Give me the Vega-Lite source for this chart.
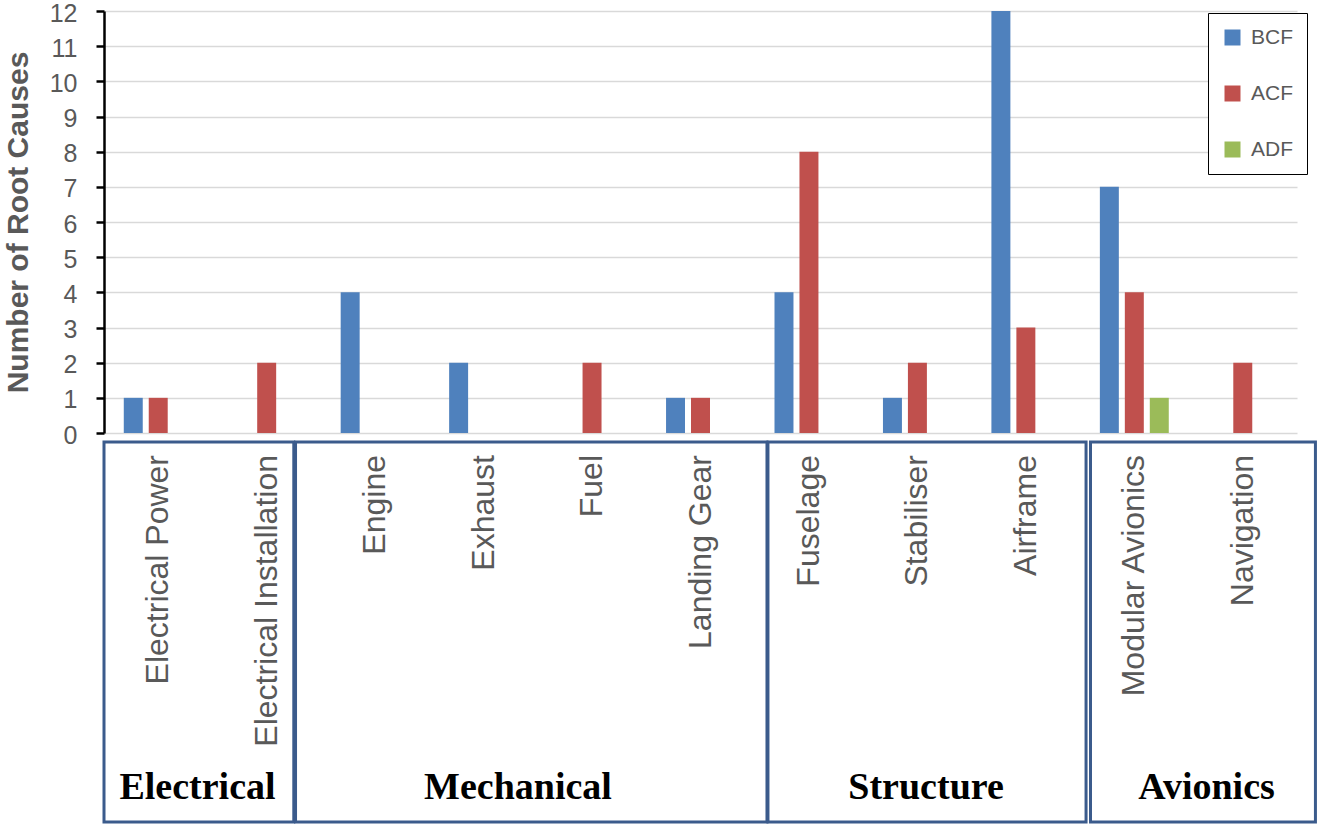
{
  "$schema": "https://vega.github.io/schema/vega-lite/v6.json",
  "background": "white",
  "padding": {"left": 3, "top": 1, "right": 0, "bottom": 0},
  "bounds": "flush",
  "spacing": 8,
  "config": {"view": {"stroke": null}, "font": "Liberation Sans"},
  "datasets": {
    "bars": [
      {"cat": "Electrical Power", "series": "BCF", "count": 1},
      {"cat": "Electrical Power", "series": "ACF", "count": 1},
      {"cat": "Electrical Installation", "series": "ACF", "count": 2},
      {"cat": "Engine", "series": "BCF", "count": 4},
      {"cat": "Exhaust", "series": "BCF", "count": 2},
      {"cat": "Fuel", "series": "ACF", "count": 2},
      {"cat": "Landing Gear", "series": "BCF", "count": 1},
      {"cat": "Landing Gear", "series": "ACF", "count": 1},
      {"cat": "Fuselage", "series": "BCF", "count": 4},
      {"cat": "Fuselage", "series": "ACF", "count": 8},
      {"cat": "Stabiliser", "series": "BCF", "count": 1},
      {"cat": "Stabiliser", "series": "ACF", "count": 2},
      {"cat": "Airframe", "series": "BCF", "count": 12},
      {"cat": "Airframe", "series": "ACF", "count": 3},
      {"cat": "Modular Avionics", "series": "BCF", "count": 7},
      {"cat": "Modular Avionics", "series": "ACF", "count": 4},
      {"cat": "Modular Avionics", "series": "ADF", "count": 1},
      {"cat": "Navigation", "series": "ACF", "count": 2}
    ],
    "cats": [
      {"cat": "Electrical Power", "pos": 0.5},
      {"cat": "Electrical Installation", "pos": 1.5},
      {"cat": "Engine", "pos": 2.5},
      {"cat": "Exhaust", "pos": 3.5},
      {"cat": "Fuel", "pos": 4.5},
      {"cat": "Landing Gear", "pos": 5.5},
      {"cat": "Fuselage", "pos": 6.5},
      {"cat": "Stabiliser", "pos": 7.5},
      {"cat": "Airframe", "pos": 8.5},
      {"cat": "Modular Avionics", "pos": 9.5},
      {"cat": "Navigation", "pos": 10.5}
    ],
    "groups": [
      {"group": "Electrical", "x0": 0, "x1": 1.75, "lx": 0.862},
      {"group": "Mechanical", "x0": 1.766, "x1": 6.113, "lx": 3.817},
      {"group": "Structure", "x0": 6.122, "x1": 9.055, "lx": 7.58},
      {"group": "Avionics", "x0": 9.096, "x1": 11.17, "lx": 10.166}
    ]
  },
  "vconcat": [
    {
      "width": 1193,
      "height": 422,
      "data": {"name": "bars"},
      "mark": {"type": "bar"},
      "encoding": {
        "x": {
          "field": "cat", "type": "nominal",
          "sort": ["Electrical Power", "Electrical Installation", "Engine", "Exhaust", "Fuel", "Landing Gear", "Fuselage", "Stabiliser", "Airframe", "Modular Avionics", "Navigation"],
          "scale": {"domain": ["Electrical Power", "Electrical Installation", "Engine", "Exhaust", "Fuel", "Landing Gear", "Fuselage", "Stabiliser", "Airframe", "Modular Avionics", "Navigation"], "paddingInner": 0, "paddingOuter": 0},
          "axis": null
        },
        "xOffset": {
          "field": "series", "type": "nominal",
          "scale": {"domain": ["BCF", "ACF", "ADF"], "paddingInner": 0.24, "paddingOuter": 0.792}
        },
        "y": {
          "field": "count", "type": "quantitative",
          "scale": {"domain": [0, 12], "nice": false},
          "axis": {
            "values": [0, 1, 2, 3, 4, 5, 6, 7, 8, 9, 10, 11, 12],
            "labelFontSize": 25, "labelColor": "#595959", "labelPadding": 19, "labelOffset": 2,
            "tickSize": 8, "tickColor": "black", "tickWidth": 2.5,
            "domainColor": "black", "domainWidth": 2.5,
            "gridColor": "#d9d9d9", "gridWidth": 1.5,
            "title": "Number of Root Causes", "titleFontSize": 30, "titleFontWeight": "bold",
            "titleColor": "#595959", "titlePadding": 16
          }
        },
        "color": {
          "field": "series", "type": "nominal",
          "scale": {"domain": ["BCF", "ACF", "ADF"], "range": ["#4F81BD", "#C0504D", "#9BBB59"]},
          "legend": {
            "orient": "none", "legendX": 1104, "legendY": 2, "title": null,
            "direction": "vertical",
            "symbolType": "square", "symbolSize": 256, "symbolStrokeWidth": 0,
            "labelFontSize": 21, "labelColor": "#595959", "labelOffset": 8,
            "rowPadding": 34, "padding": 14,
            "strokeColor": "black", "fillColor": "white"
          }
        }
      }
    },
    {
      "width": 1193,
      "height": 383,
      "layer": [
        {
          "data": {"name": "groups"},
          "mark": {"type": "rect", "fill": "white", "stroke": "#3b5b8c", "strokeWidth": 3},
          "encoding": {
            "x": {"field": "x0", "type": "quantitative", "scale": {"domain": [0, 11], "nice": false, "zero": false}, "axis": null},
            "x2": {"field": "x1"},
            "y": {"datum": 1, "type": "quantitative", "scale": {"domain": [0, 383], "reverse": true, "nice": false, "zero": false}, "axis": null},
            "y2": {"datum": 381}
          }
        },
        {
          "data": {"name": "cats"},
          "mark": {"type": "text", "angle": 270, "align": "right", "baseline": "middle", "fontSize": 32, "color": "#595959", "font": "Liberation Sans"},
          "encoding": {
            "x": {"field": "pos", "type": "quantitative"},
            "y": {"datum": 14, "type": "quantitative"},
            "text": {"field": "cat"}
          }
        },
        {
          "data": {"name": "groups"},
          "mark": {"type": "text", "fontSize": 38, "fontWeight": "bold", "font": "Liberation Serif", "color": "black", "baseline": "alphabetic", "align": "center"},
          "encoding": {
            "x": {"field": "lx", "type": "quantitative"},
            "y": {"datum": 358, "type": "quantitative"},
            "text": {"field": "group"}
          }
        }
      ]
    }
  ]
}
